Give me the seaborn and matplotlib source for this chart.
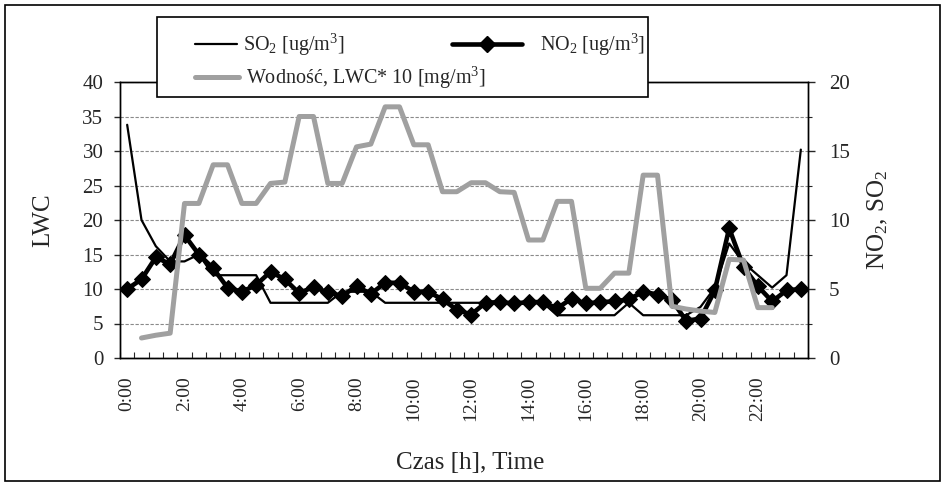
import numpy as np
import pandas as pd
import matplotlib
matplotlib.use("Agg")
import matplotlib.pyplot as plt
import seaborn as sns
from matplotlib.lines import Line2D
from matplotlib.patches import Rectangle
from matplotlib.ticker import MultipleLocator

# ---------------- data ----------------
times = ["0:00", "0:30", "1:00", "1:30", "2:00", "2:30", "3:00", "3:30",
         "4:00", "4:30", "5:00", "5:30", "6:00", "6:30", "7:00", "7:30",
         "8:00", "8:30", "9:00", "9:30", "10:00", "10:30", "11:00", "11:30",
         "12:00", "12:30", "13:00", "13:30", "14:00", "14:30", "15:00", "15:30",
         "16:00", "16:30", "17:00", "17:30", "18:00", "18:30", "19:00", "19:30",
         "20:00", "20:30", "21:00", "21:30", "22:00", "22:30", "23:00", "23:30"]

so2 = [16.9, 10.0, 8.1, 7.0, 7.0, 7.5, 6.0, 6.0, 6.0, 6.0,
       4.0, 4.0, 4.0, 4.0, 4.0, 4.8, 4.8, 4.8, 4.0, 4.0,
       4.0, 4.0, 4.0, 4.0, 4.0, 4.0, 4.0, 4.0, 4.0, 4.0,
       3.1, 3.1, 3.1, 3.1, 3.1, 4.0, 3.1, 3.1, 3.1, 3.1,
       3.7, 5.1, 8.3, 6.9, 6.0, 5.1, 6.0, 15.1]

no2 = [5.0, 5.7, 7.3, 6.8, 8.9, 7.5, 6.5, 5.1, 4.8, 5.3,
       6.25, 5.7, 4.7, 5.15, 4.75, 4.5, 5.2, 4.65, 5.45, 5.45,
       4.8, 4.8, 4.25, 3.5, 3.15, 4.0, 4.05, 3.95, 4.05, 4.05,
       3.6, 4.3, 3.95, 4.05, 4.1, 4.25, 4.8, 4.6, 4.2, 2.7,
       2.85, 4.9, 9.4, 6.6, 5.2, 4.1, 4.9, 5.0]

lwc10 = [np.nan, 2.9, 3.3, 3.6, 22.4, 22.4, 28.0, 28.0, 22.4, 22.4,
         25.3, 25.5, 35.0, 35.0, 25.3, 25.3, 30.6, 31.0, 36.4, 36.4,
         30.9, 30.9, 24.1, 24.1, 25.4, 25.4, 24.1, 24.0, 17.1, 17.1,
         22.7, 22.7, 10.1, 10.1, 12.3, 12.3, 26.5, 26.5, 7.5, 7.1,
         6.8, 6.6, 14.3, 14.2, 7.3, 7.3, np.nan, np.nan]

left_ticks = [0, 5, 10, 15, 20, 25, 30, 35, 40]
right_ticks = [0, 5, 10, 15, 20]

label_so2 = "SO$_2$ [ug/m$^3$]"
label_no2 = "NO$_2$ [ug/m$^3$]"
label_lwc = "Wodność, LWC* 10 [mg/m$^3$]"

# ---------------- style ----------------
sns.set_style("ticks")
plt.rcParams["font.family"] = ["Liberation Serif", "DejaVu Serif"]
plt.rcParams["mathtext.default"] = "regular"

W, H = 946, 486
fig = plt.figure(figsize=(W / 100, H / 100), dpi=100, facecolor="white")

x0, x1, ytop, ybot = 120, 808, 82, 358
ax = fig.add_axes([x0 / W, 1 - ybot / H, (x1 - x0) / W, (ybot - ytop) / H])
ax2 = ax.twinx()
ax.set_zorder(2)
ax2.set_zorder(1)
ax.patch.set_visible(False)
ax2.patch.set_visible(False)

df = pd.DataFrame({"idx": np.arange(len(times)), "time": times,
                   "SO2": so2, "NO2": no2, "LWC": lwc10})

GRAY = "#a0a0a0"
sns.lineplot(data=df, x="idx", y="SO2", ax=ax2, color="black", linewidth=1.6)
sns.lineplot(data=df, x="idx", y="NO2", ax=ax2, color="black", linewidth=3.3,
             marker="D", markersize=8.5, markeredgecolor="black")
sns.lineplot(data=df.dropna(subset=["LWC"]), x="idx", y="LWC", ax=ax,
             color=GRAY, linewidth=3.6)

# axes limits / ticks
ax.set_xlim(-0.5, len(times) - 0.5)
ax.set_ylim(0, 40)
ax2.set_ylim(0, 20)
ax.set_yticks(left_ticks)
ax2.set_yticks(right_ticks)
ax2.yaxis.set_minor_locator(MultipleLocator(2.5))

ax.set_xticks(np.arange(0, len(times), 4))
ax.set_xticklabels(times[::4], rotation=90)
ax.set_xticks(np.arange(-0.5, len(times), 1), minor=True)

ax.tick_params(axis="x", which="major", length=0, labelsize=14, pad=13)
ax.tick_params(axis="x", which="minor", direction="in", length=4, width=0.8)
ax.tick_params(axis="y", which="major", length=4, width=1, labelsize=15, pad=8)
ax2.tick_params(axis="y", which="major", length=5, width=1, labelsize=15, pad=10)
ax2.tick_params(axis="y", which="minor", length=3, width=0.8)

ax.grid(False)
ax2.grid(False)
ax2.grid(True, which="both", axis="y", color="#8a8a8a", linewidth=0.8,
         linestyle=(0, (3, 1.5)))

for a in (ax, ax2):
    for s in a.spines.values():
        s.set_visible(True)
        s.set_color("black")
        s.set_linewidth(1.0)

# axis labels
ax.set_xlabel("Czas [h], Time", fontsize=18, va="center")
ax.xaxis.set_label_coords((470 - x0) / (x1 - x0), (ybot - 463) / (ybot - ytop))
ax.set_ylabel("LWC", fontsize=18, va="center")
ax.yaxis.set_label_coords((43 - x0) / (x1 - x0), 0.5)
ax2.set_ylabel("NO$_2$, SO$_2$", fontsize=18, va="center", rotation=90)
ax2.yaxis.set_label_coords((878 - x0) / (x1 - x0), 0.5)

# outer frame
fig.add_artist(Rectangle((5 / W, 5 / H), 935 / W, 476 / H, transform=fig.transFigure,
                         fill=False, ec="black", lw=1.2, zorder=10))

# legend box
fig.add_artist(Rectangle((157 / W, 1 - 97 / H), 491 / W, 80 / H, transform=fig.transFigure,
                         fc="white", ec="black", lw=1.2, zorder=5))

h_so2 = Line2D([], [], color="black", lw=1.6)
h_no2 = Line2D([], [], color="black", lw=3.3, marker="D", markersize=8.5)
h_lwc = Line2D([], [], color=GRAY, lw=3.6)

def add_leg(h, lab, xpx, ypx, hl, pad):
    lg = fig.legend(handles=[h], labels=[lab], loc="center left",
                    bbox_to_anchor=(xpx / W, 1 - ypx / H), frameon=False,
                    fontsize=14.5, handlelength=hl, handletextpad=pad,
                    borderpad=0, borderaxespad=0, numpoints=1)
    lg.set_zorder(6)
    return lg

add_leg(h_so2, label_so2, 195, 45, 2.1, 0.3)
add_leg(h_no2, label_no2, 452, 45, 3.5, 0.85)
add_leg(h_lwc, label_lwc, 195, 78, 2.2, 0.35)

fig.savefig("out.png", dpi=100, facecolor="white")
